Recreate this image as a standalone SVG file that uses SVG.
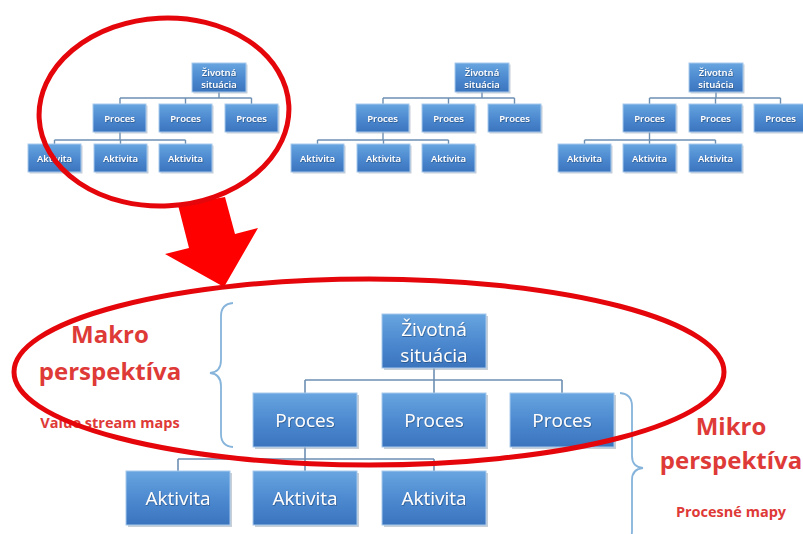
<svg xmlns="http://www.w3.org/2000/svg" width="803" height="534" viewBox="0 0 803 534">
  <defs>
    <linearGradient id="boxFill" x1="0" y1="0" x2="0" y2="1">
      <stop offset="0" stop-color="#68a5e0"/>
      <stop offset="0.5" stop-color="#4d8ad0"/>
      <stop offset="1" stop-color="#3a74bd"/>
    </linearGradient>
    <filter id="txtShadow" x="-10%" y="-20%" width="120%" height="140%">
      <feDropShadow dx="0.6" dy="0.8" stdDeviation="0.4" flood-color="#1d3f6a" flood-opacity="0.7"/>
    </filter>
    <style>
      .box { fill: url(#boxFill); stroke: #a6c9ec; stroke-width: 1; }
      .shade { fill: #9aa8b6; opacity: 0.55; }
      .lbl { fill: #ffffff; font-family: "Open Sans", "DejaVu Sans", sans-serif; text-anchor: middle; filter: url(#txtShadow); }
      .sm { font-size: 9.5px; font-weight: 600; }
      .lg { font-size: 19px; }
      .wire { fill: none; stroke: #6d8fb2; stroke-width: 1.4; }
      .wire-lg { fill: none; stroke: #6d8fb2; stroke-width: 1.6; }
      .ring { fill: none; stroke: #e5060b; stroke-width: 5; }
      .brace { fill: none; stroke: #86b4db; stroke-width: 1.8; }
      .red { fill: #de3a37; font-family: "Open Sans", "DejaVu Sans", sans-serif; font-weight: 700; text-anchor: middle; }
      .big { font-size: 24px; }
      .sub { font-size: 14.5px; }
    </style>
  </defs>

  <rect width="803" height="534" fill="#ffffff"/>

  <!-- connectors -->
  <g id="connectors">
    <!-- small tree 1 -->
    <path class="wire" d="M219 92V98M120 98H251.5M120 98V104M185.5 98V104M251.5 98V104M120 132V140M54.5 140H185.5M54.5 140V144M120.5 140V144M185.5 140V144"/>
    <!-- small tree 2 -->
    <path class="wire" d="M482 92V98M383 98H514.5M383 98V104M448.5 98V104M514.5 98V104M383 132V140M317.5 140H448.5M317.5 140V144M383.5 140V144M448.5 140V144"/>
    <!-- small tree 3 -->
    <path class="wire" d="M716 92V98M649.5 98H780.5M649.5 98V104M715.5 98V104M780.5 98V104M649.5 132V140M584.5 140H715.5M584.5 140V144M649.5 140V144M715.5 140V144"/>
    <!-- large tree -->
    <path class="wire-lg" d="M434 368V380M305 380H562M305 380V393M434 380V393M562 380V393M305 447V459M178 459H434M178 459V471M305 459V471M434 459V471"/>
  </g>

  <!-- small tree 1 -->
  <g id="t1-zivotna"><rect class="shade" x="193.5" y="64.5" width="54" height="29"/><rect class="box" x="192" y="63" width="54" height="29"/><text class="lbl sm" x="219" y="75.5">Životná</text><text class="lbl sm" x="219" y="88">situácia</text></g>
  <g id="t1-proces1"><rect class="shade" x="94.5" y="105.5" width="53" height="28"/><rect class="box" x="93" y="104" width="53" height="28"/><text class="lbl sm" x="119.5" y="121.5">Proces</text></g>
  <g id="t1-proces2"><rect class="shade" x="160.5" y="105.5" width="53" height="28"/><rect class="box" x="159" y="104" width="53" height="28"/><text class="lbl sm" x="185.5" y="121.5">Proces</text></g>
  <g id="t1-proces3"><rect class="shade" x="226.5" y="105.5" width="53" height="28"/><rect class="box" x="225" y="104" width="53" height="28"/><text class="lbl sm" x="251.5" y="121.5">Proces</text></g>
  <g id="t1-aktivita1"><rect class="shade" x="29.5" y="145.5" width="53" height="28"/><rect class="box" x="28" y="144" width="53" height="28"/><text class="lbl sm" x="54.5" y="161.5">Aktivita</text></g>
  <g id="t1-aktivita2"><rect class="shade" x="95.5" y="145.5" width="53" height="28"/><rect class="box" x="94" y="144" width="53" height="28"/><text class="lbl sm" x="120.5" y="161.5">Aktivita</text></g>
  <g id="t1-aktivita3"><rect class="shade" x="160.5" y="145.5" width="53" height="28"/><rect class="box" x="159" y="144" width="53" height="28"/><text class="lbl sm" x="185.5" y="161.5">Aktivita</text></g>

  <!-- small tree 2 -->
  <g id="t2-zivotna"><rect class="shade" x="456.5" y="64.5" width="54" height="29"/><rect class="box" x="455" y="63" width="54" height="29"/><text class="lbl sm" x="482" y="75.5">Životná</text><text class="lbl sm" x="482" y="88">situácia</text></g>
  <g id="t2-proces1"><rect class="shade" x="357.5" y="105.5" width="53" height="28"/><rect class="box" x="356" y="104" width="53" height="28"/><text class="lbl sm" x="382.5" y="121.5">Proces</text></g>
  <g id="t2-proces2"><rect class="shade" x="423.5" y="105.5" width="53" height="28"/><rect class="box" x="422" y="104" width="53" height="28"/><text class="lbl sm" x="448.5" y="121.5">Proces</text></g>
  <g id="t2-proces3"><rect class="shade" x="489.5" y="105.5" width="53" height="28"/><rect class="box" x="488" y="104" width="53" height="28"/><text class="lbl sm" x="514.5" y="121.5">Proces</text></g>
  <g id="t2-aktivita1"><rect class="shade" x="292.5" y="145.5" width="53" height="28"/><rect class="box" x="291" y="144" width="53" height="28"/><text class="lbl sm" x="317.5" y="161.5">Aktivita</text></g>
  <g id="t2-aktivita2"><rect class="shade" x="358.5" y="145.5" width="53" height="28"/><rect class="box" x="357" y="144" width="53" height="28"/><text class="lbl sm" x="383.5" y="161.5">Aktivita</text></g>
  <g id="t2-aktivita3"><rect class="shade" x="423.5" y="145.5" width="53" height="28"/><rect class="box" x="422" y="144" width="53" height="28"/><text class="lbl sm" x="448.5" y="161.5">Aktivita</text></g>

  <!-- small tree 3 -->
  <g id="t3-zivotna"><rect class="shade" x="690.5" y="64.5" width="54" height="29"/><rect class="box" x="689" y="63" width="54" height="29"/><text class="lbl sm" x="716" y="75.5">Životná</text><text class="lbl sm" x="716" y="88">situácia</text></g>
  <g id="t3-proces1"><rect class="shade" x="624.5" y="105.5" width="53" height="28"/><rect class="box" x="623" y="104" width="53" height="28"/><text class="lbl sm" x="649.5" y="121.5">Proces</text></g>
  <g id="t3-proces2"><rect class="shade" x="690.5" y="105.5" width="53" height="28"/><rect class="box" x="689" y="104" width="53" height="28"/><text class="lbl sm" x="715.5" y="121.5">Proces</text></g>
  <g id="t3-proces3"><rect class="shade" x="755.5" y="105.5" width="53" height="28"/><rect class="box" x="754" y="104" width="53" height="28"/><text class="lbl sm" x="780.5" y="121.5">Proces</text></g>
  <g id="t3-aktivita1"><rect class="shade" x="559.5" y="145.5" width="53" height="28"/><rect class="box" x="558" y="144" width="53" height="28"/><text class="lbl sm" x="584.5" y="161.5">Aktivita</text></g>
  <g id="t3-aktivita2"><rect class="shade" x="624.5" y="145.5" width="53" height="28"/><rect class="box" x="623" y="144" width="53" height="28"/><text class="lbl sm" x="649.5" y="161.5">Aktivita</text></g>
  <g id="t3-aktivita3"><rect class="shade" x="690.5" y="145.5" width="53" height="28"/><rect class="box" x="689" y="144" width="53" height="28"/><text class="lbl sm" x="715.5" y="161.5">Aktivita</text></g>

  <!-- large tree -->
  <g id="zivotna"><rect class="shade" x="384" y="316" width="104" height="54"/><rect class="box" x="382" y="314" width="104" height="54"/><text class="lbl lg" x="434" y="336">Životná</text><text class="lbl lg" x="434" y="362">situácia</text></g>
  <g id="proces1"><rect class="shade" x="255" y="395" width="104" height="54"/><rect class="box" x="253" y="393" width="104" height="54"/><text class="lbl lg" x="305" y="427">Proces</text></g>
  <g id="proces2"><rect class="shade" x="384" y="395" width="104" height="54"/><rect class="box" x="382" y="393" width="104" height="54"/><text class="lbl lg" x="434" y="427">Proces</text></g>
  <g id="proces3"><rect class="shade" x="512" y="395" width="104" height="54"/><rect class="box" x="510" y="393" width="104" height="54"/><text class="lbl lg" x="562" y="427">Proces</text></g>
  <g id="aktivita1"><rect class="shade" x="128" y="473" width="104" height="54"/><rect class="box" x="126" y="471" width="104" height="54"/><text class="lbl lg" x="178" y="505">Aktivita</text></g>
  <g id="aktivita2"><rect class="shade" x="255" y="473" width="104" height="54"/><rect class="box" x="253" y="471" width="104" height="54"/><text class="lbl lg" x="305" y="505">Aktivita</text></g>
  <g id="aktivita3"><rect class="shade" x="384" y="473" width="104" height="54"/><rect class="box" x="382" y="471" width="104" height="54"/><text class="lbl lg" x="434" y="505">Aktivita</text></g>

  <!-- braces -->
  <path class="brace" d="M233 303Q221 304 221 316V360Q221 372 210 373Q221 374 221 386V434Q221 446 233 447"/>
  <path class="brace" d="M620 393Q632 394 632 406V456Q632 467 643 468Q632 469 632 480V531Q632 543 620 544"/>

  <!-- side labels -->
  <g id="makro">
    <text class="red big" x="110" y="343">Makro</text>
    <text class="red big" x="110" y="380">perspektíva</text>
    <text class="red sub" x="110" y="428">Value stream maps</text>
  </g>
  <g id="mikro">
    <text class="red big" x="731" y="435">Mikro</text>
    <text class="red big" x="731" y="469">perspektíva</text>
    <text class="red sub" x="731" y="517">Procesné mapy</text>
  </g>

  <!-- highlight rings and zoom arrow -->
  <polygon points="178,205 225,197 235,234 258,228 224,287 165,254 189,248" fill="#ff0000"/>
  <ellipse class="ring" cx="164" cy="112" rx="125" ry="94" transform="rotate(-3 164 112)"/>
  <ellipse class="ring" cx="369" cy="372" rx="355" ry="93"/>
</svg>
